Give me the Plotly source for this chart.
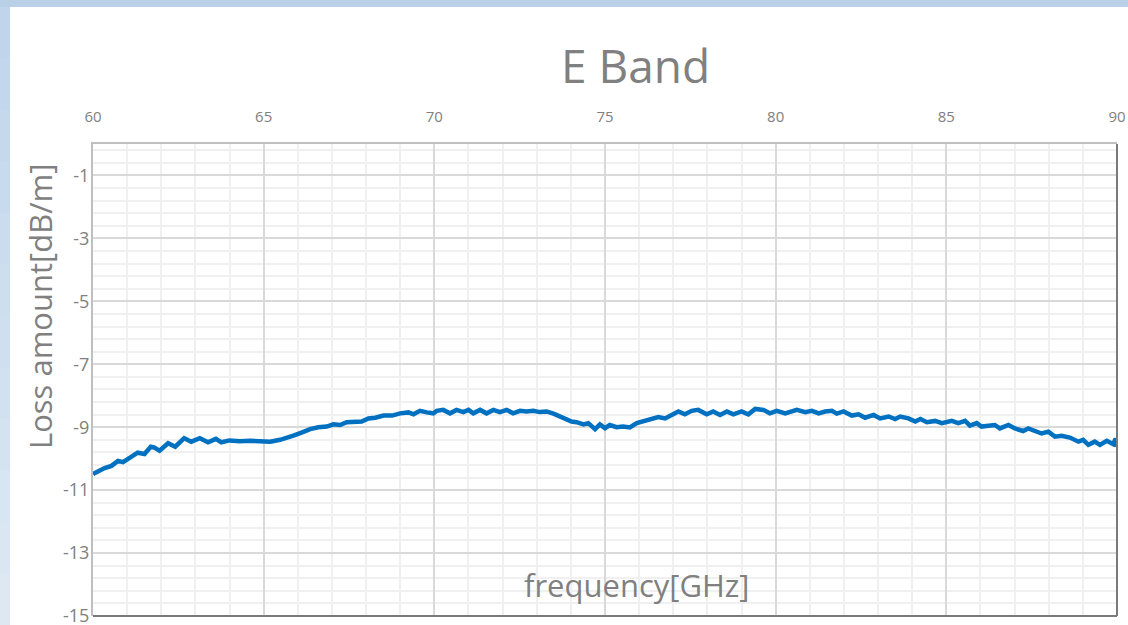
import plotly.graph_objects as go

# ---- data ----
freq_ghz = [60.00, 60.15, 60.34, 60.54, 60.73, 60.88, 61.12, 61.31, 61.51, 61.69,
            61.80, 61.95, 62.20, 62.41, 62.67, 62.88, 63.13, 63.37, 63.60, 63.76,
            64.00, 64.30, 64.60, 64.90, 65.19, 65.48, 65.68, 65.87, 66.11, 66.36,
            66.60, 66.85, 67.04, 67.24, 67.43, 67.68, 67.87, 68.07, 68.27, 68.51,
            68.76, 69.00, 69.24, 69.39, 69.58, 69.78, 69.97, 70.07, 70.26, 70.46,
            70.65, 70.85, 71.00, 71.14, 71.34, 71.53, 71.73, 71.92, 72.12, 72.31,
            72.51, 72.70, 72.90, 73.09, 73.29, 73.49, 73.68, 73.88, 74.02, 74.17,
            74.37, 74.51, 74.71, 74.85, 75.00, 75.14, 75.34, 75.53, 75.73, 75.93,
            76.12, 76.32, 76.56, 76.76, 76.95, 77.15, 77.34, 77.54, 77.73, 77.98,
            78.17, 78.37, 78.57, 78.76, 79.00, 79.20, 79.40, 79.64, 79.83, 80.03,
            80.28, 80.62, 80.87, 81.06, 81.26, 81.45, 81.65, 81.79, 81.99, 82.23,
            82.43, 82.62, 82.87, 83.06, 83.31, 83.50, 83.65, 83.89, 84.09, 84.24,
            84.43, 84.67, 84.87, 85.16, 85.35, 85.55, 85.69, 85.89, 86.03, 86.23,
            86.42, 86.57, 86.82, 87.01, 87.25, 87.40, 87.60, 87.79, 87.99, 88.18,
            88.38, 88.62, 88.87, 89.01, 89.16, 89.35, 89.50, 89.70, 89.89, 89.96,
            90.00]
loss_db_per_m = [-10.49, -10.39, -10.30, -10.23, -10.07, -10.11, -9.93, -9.81, -9.85, -9.62,
                 -9.65, -9.75, -9.51, -9.62, -9.35, -9.46, -9.35, -9.48, -9.37, -9.48,
                 -9.42, -9.45, -9.43, -9.45, -9.46, -9.40, -9.35, -9.27, -9.17, -9.06,
                 -9.00, -8.98, -8.91, -8.93, -8.84, -8.84, -8.82, -8.72, -8.70, -8.63,
                 -8.63, -8.56, -8.53, -8.59, -8.48, -8.53, -8.56, -8.48, -8.45, -8.56,
                 -8.45, -8.52, -8.45, -8.56, -8.45, -8.56, -8.45, -8.52, -8.45, -8.56,
                 -8.48, -8.50, -8.48, -8.52, -8.50, -8.57, -8.66, -8.72, -8.82, -8.84,
                 -8.91, -8.87, -9.06, -8.91, -9.03, -8.93, -9.00, -8.98, -9.01, -8.87,
                 -8.82, -8.77, -8.68, -8.72, -8.63, -8.50, -8.59, -8.48, -8.45, -8.59,
                 -8.50, -8.61, -8.50, -8.59, -8.50, -8.59, -8.42, -8.45, -8.56, -8.48,
                 -8.56, -8.45, -8.52, -8.48, -8.56, -8.50, -8.48, -8.57, -8.50, -8.63,
                 -8.59, -8.70, -8.61, -8.72, -8.66, -8.74, -8.66, -8.72, -8.82, -8.74,
                 -8.84, -8.80, -8.87, -8.80, -8.87, -8.80, -8.95, -8.87, -8.98, -8.95,
                 -8.93, -9.04, -8.93, -9.04, -9.12, -9.04, -9.14, -9.20, -9.14, -9.30,
                 -9.27, -9.33, -9.46, -9.40, -9.56, -9.46, -9.56, -9.43, -9.54, -9.36,
                 -9.62]

x_ticks = [60, 65, 70, 75, 80, 85, 90]
y_ticks = [-15, -13, -11, -9, -7, -5, -3, -1]

title_text = "E Band"
x_title = "frequency[GHz]"
y_title = "Loss amount[dB/m]"

# ---- layout geometry (pixels) ----
W, H = 1128, 625
L, R, T, B = 93, 11, 144, 9
PW, PH = W - L - R, H - T - B


def px(xp):
    return (xp - L) / PW


def py(yp):
    return (H - B - yp) / PH


GRAY = "#808080"

fig = go.Figure()
fig.add_trace(go.Scatter(
    x=freq_ghz, y=loss_db_per_m, mode="lines",
    line=dict(color="#0070c0", width=4.5),
    showlegend=False, hoverinfo="skip",
))

shapes = []
# white panel & light-blue frame
shapes.append(dict(type="rect", xref="paper", yref="paper", layer="below",
                   x0=px(0), x1=px(W), y0=py(H), y1=py(0),
                   fillcolor="#ffffff", line=dict(width=0)))
shapes.append(dict(type="rect", xref="paper", yref="paper", layer="below",
                   x0=px(0), x1=px(W), y0=py(7), y1=py(0),
                   fillcolor="#b9d0e7", line=dict(width=0)))
n = 12
c0 = (192, 213, 235)
c1 = (221, 232, 243)
for i in range(n):
    t = i / (n - 1)
    c = tuple(int(round(a + (b - a) * t)) for a, b in zip(c0, c1))
    ya = 7 + (H - 7) * i / n
    yb = 7 + (H - 7) * (i + 1) / n
    shapes.append(dict(type="rect", xref="paper", yref="paper", layer="below",
                       x0=px(0), x1=px(10), y0=py(yb + 1), y1=py(ya),
                       fillcolor="rgb(%d,%d,%d)" % c, line=dict(width=0)))
# darker right and bottom borders
shapes.append(dict(type="line", xref="paper", yref="paper", x0=0, x1=1, y0=0, y1=0,
                   line=dict(color="#7a7a7a", width=2)))
shapes.append(dict(type="line", xref="paper", yref="paper", x0=1, x1=1, y0=0, y1=1,
                   line=dict(color="#7a7a7a", width=2)))

fig.update_layout(
    width=W, height=H, autosize=False,
    margin=dict(l=L, r=R, t=T, b=B, pad=0, autoexpand=False),
    paper_bgcolor="#ffffff", plot_bgcolor="#ffffff",
    font=dict(family="Open Sans", color=GRAY),
    shapes=shapes,
    xaxis=dict(
        side="top", range=[60, 90], tickvals=x_ticks,
        ticktext=[str(v) for v in x_ticks],
        tickfont=dict(size=15, color=GRAY, family="Open Sans"),
        ticks="", ticklabelstandoff=14, ticklabeloverflow="allow",
        automargin=False,
        showgrid=True, gridcolor="#d9d9d9", gridwidth=2,
        minor=dict(dtick=1, tick0=60, showgrid=True, gridcolor="#f0f0f0", gridwidth=2),
        showline=True, linecolor="#bfbfbf", linewidth=2,
        zeroline=False, fixedrange=True,
    ),
    yaxis=dict(
        range=[-15, 0], tickvals=y_ticks,
        ticktext=[str(v) for v in y_ticks],
        tickfont=dict(size=18, color=GRAY, family="Open Sans"),
        ticks="", ticklabelstandoff=-2, ticklabeloverflow="allow",
        automargin=False,
        showgrid=True, gridcolor="#d9d9d9", gridwidth=2,
        minor=dict(dtick=0.4, tick0=-1, showgrid=True, gridcolor="#f0f0f0", gridwidth=2),
        showline=True, linecolor="#bfbfbf", linewidth=2,
        zeroline=False, fixedrange=True,
    ),
    annotations=[
        dict(text=title_text, xref="paper", yref="paper", x=px(635), y=py(65),
             showarrow=False, xanchor="center", yanchor="middle",
             font=dict(size=46, color=GRAY, family="Open Sans")),
        dict(text=x_title, xref="paper", yref="paper", x=px(637), y=py(585),
             showarrow=False, xanchor="center", yanchor="middle",
             font=dict(size=31, color=GRAY, family="Open Sans")),
        dict(text=y_title, xref="paper", yref="paper", x=px(40), y=py(307),
             showarrow=False, xanchor="center", yanchor="middle", textangle=-90,
             font=dict(size=31, color=GRAY, family="Open Sans")),
    ],
)

fig.write_html("out.html", config={"displayModeBar": False},
               post_script="document.body.style.margin='0';document.body.style.overflow='hidden';")
